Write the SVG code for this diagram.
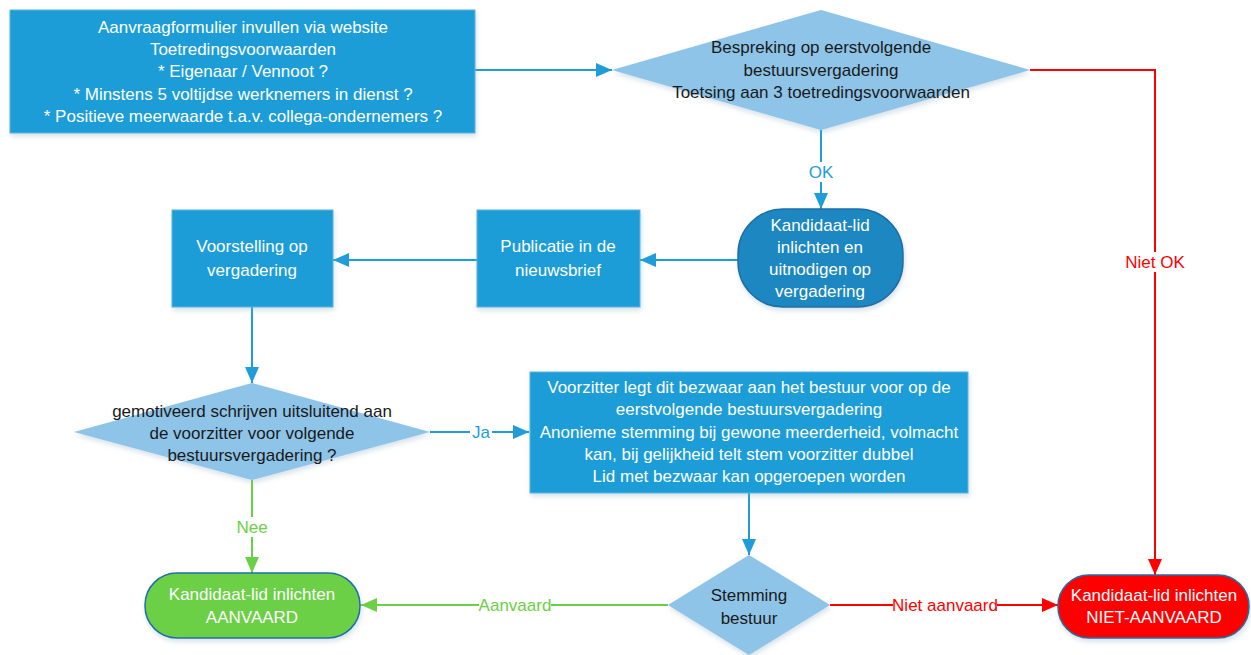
<svg xmlns="http://www.w3.org/2000/svg" width="1251" height="655" viewBox="0 0 1251 655">
<style>
text{font-family:"Liberation Sans",Arial,sans-serif;font-size:17px;text-anchor:middle}
.w{fill:#ffffff}
.d{fill:#1a1a1a}
.box{fill:#1E9DD8;stroke:#5BB4E0;stroke-width:1}
.dia{fill:#8EC4E8}
.term{stroke:#1F6FA8;stroke-width:1.5}
.cb{stroke:#1E9DD8;stroke-width:2;fill:none}
.cr{stroke:#FF0000;stroke-width:2;fill:none}
.cg{stroke:#6CD046;stroke-width:2;fill:none}
.lb{fill:#1E9DD8}
.lr{fill:#FF0000}
.lg{fill:#6CD046}
.bg{fill:#ffffff}
</style>
<defs>
<filter id="sh" x="-10%" y="-10%" width="125%" height="130%">
<feDropShadow dx="1" dy="3" stdDeviation="2.5" flood-color="#7a9fb8" flood-opacity="0.3"/>
</filter>
<marker id="ab" markerUnits="userSpaceOnUse" markerWidth="16" markerHeight="14" refX="16" refY="7" orient="auto"><path d="M0,0 L16,7 L0,14 z" fill="#1E9DD8"/></marker>
<marker id="ar" markerUnits="userSpaceOnUse" markerWidth="16" markerHeight="14" refX="16" refY="7" orient="auto"><path d="M0,0 L16,7 L0,14 z" fill="#FF0000"/></marker>
<marker id="ag" markerUnits="userSpaceOnUse" markerWidth="16" markerHeight="14" refX="16" refY="7" orient="auto"><path d="M0,0 L16,7 L0,14 z" fill="#6CD046"/></marker>
</defs>
<g id="connectors">
<path class="cb" d="M475,70 H612" marker-end="url(#ab)"/>
<path class="cb" d="M821,130 V209" marker-end="url(#ab)"/>
<path class="cb" d="M738,260 H640" marker-end="url(#ab)"/>
<path class="cb" d="M477,260 H333" marker-end="url(#ab)"/>
<path class="cb" d="M252,307 V383" marker-end="url(#ab)"/>
<path class="cb" d="M430,432 H529" marker-end="url(#ab)"/>
<path class="cb" d="M749,493 V555" marker-end="url(#ab)"/>
<path class="cg" d="M668,605 H361" marker-end="url(#ag)"/>
<path class="cg" d="M252,480 V573" marker-end="url(#ag)"/>
<path class="cr" d="M830,605 H1058" marker-end="url(#ar)"/>
<path class="cr" d="M1030,70 H1155 V575" marker-end="url(#ar)"/>
<rect class="bg" x="808" y="162" width="26" height="20"/>
<text class="lb" x="821" y="178">OK</text>
<rect class="bg" x="1124" y="252" width="62" height="20"/>
<text class="lr" x="1155" y="268">Niet OK</text>
<rect class="bg" x="470" y="422" width="22" height="20"/>
<text class="lb" x="481" y="438">Ja</text>
<rect class="bg" x="236" y="517" width="32" height="20"/>
<text class="lg" x="252" y="533">Nee</text>
<rect class="bg" x="479" y="595" width="72" height="20"/>
<text class="lg" x="515" y="611">Aanvaard</text>
<rect class="bg" x="893" y="595" width="104" height="20"/>
<text class="lr" x="945" y="611">Niet aanvaard</text>
</g>
<g id="n-aanvraag">
<rect class="box" x="10" y="10" width="465" height="123" filter="url(#sh)"/>
<text class="w" x="243" y="33">Aanvraagformulier invullen via website</text>
<text class="w" x="243" y="55">Toetredingsvoorwaarden</text>
<text class="w" x="243" y="77">* Eigenaar / Vennoot ?</text>
<text class="w" x="243" y="100">* Minstens 5 voltijdse werknemers in dienst ?</text>
<text class="w" x="243" y="122">* Positieve meerwaarde t.a.v. collega-ondernemers ?</text>
</g>
<g id="n-bespreking">
<polygon class="dia" points="821,10 1030,70 821,130 612,70" filter="url(#sh)"/>
<text class="d" x="821" y="53">Bespreking op eerstvolgende</text>
<text class="d" x="821" y="76">bestuursvergadering</text>
<text class="d" x="821" y="98">Toetsing aan 3 toetredingsvoorwaarden</text>
</g>
<g id="n-kandidaat-uitnodigen">
<rect class="term" x="738" y="209" width="165" height="98" rx="45" ry="45" fill="#1A87C0" filter="url(#sh)"/>
<text class="w" x="820" y="231">Kandidaat-lid</text>
<text class="w" x="820" y="253">inlichten en</text>
<text class="w" x="820" y="275">uitnodigen op</text>
<text class="w" x="820" y="297">vergadering</text>
</g>
<g id="n-publicatie">
<rect class="box" x="477" y="210" width="163" height="97" filter="url(#sh)"/>
<text class="w" x="558" y="252">Publicatie in de</text>
<text class="w" x="558" y="276">nieuwsbrief</text>
</g>
<g id="n-voorstelling">
<rect class="box" x="172" y="210" width="161" height="97" filter="url(#sh)"/>
<text class="w" x="252" y="252">Voorstelling op</text>
<text class="w" x="252" y="276">vergadering</text>
</g>
<g id="n-gemotiveerd">
<polygon class="dia" points="252,383 430,432 252,480 74,432" filter="url(#sh)"/>
<text class="d" x="252" y="417">gemotiveerd schrijven uitsluitend aan</text>
<text class="d" x="252" y="439">de voorzitter voor volgende</text>
<text class="d" x="252" y="461">bestuursvergadering ?</text>
</g>
<g id="n-voorzitter">
<rect class="box" x="530" y="372" width="438" height="121" filter="url(#sh)"/>
<text class="w" x="749" y="393">Voorzitter legt dit bezwaar aan het bestuur voor op de</text>
<text class="w" x="749" y="415">eerstvolgende bestuursvergadering</text>
<text class="w" x="749" y="438">Anonieme stemming bij gewone meerderheid, volmacht</text>
<text class="w" x="749" y="460">kan, bij gelijkheid telt stem voorzitter dubbel</text>
<text class="w" x="749" y="482">Lid met bezwaar kan opgeroepen worden</text>
</g>
<g id="n-stemming">
<polygon class="dia" points="749,555 830,605 749,655 668,605" filter="url(#sh)"/>
<text class="d" x="749" y="601">Stemming</text>
<text class="d" x="749" y="624">bestuur</text>
</g>
<g id="n-aanvaard">
<rect class="term" x="145" y="573" width="215" height="65" rx="32" ry="32" fill="#6CD046" filter="url(#sh)"/>
<text class="w" x="252" y="600">Kandidaat-lid inlichten</text>
<text class="w" x="252" y="623">AANVAARD</text>
</g>
<g id="n-niet-aanvaard">
<rect class="term" x="1058" y="575" width="191" height="63" rx="31" ry="31" fill="#FF0000" filter="url(#sh)"/>
<text class="w" x="1154" y="601">Kandidaat-lid inlichten</text>
<text class="w" x="1154" y="623">NIET-AANVAARD</text>
</g>
</svg>
